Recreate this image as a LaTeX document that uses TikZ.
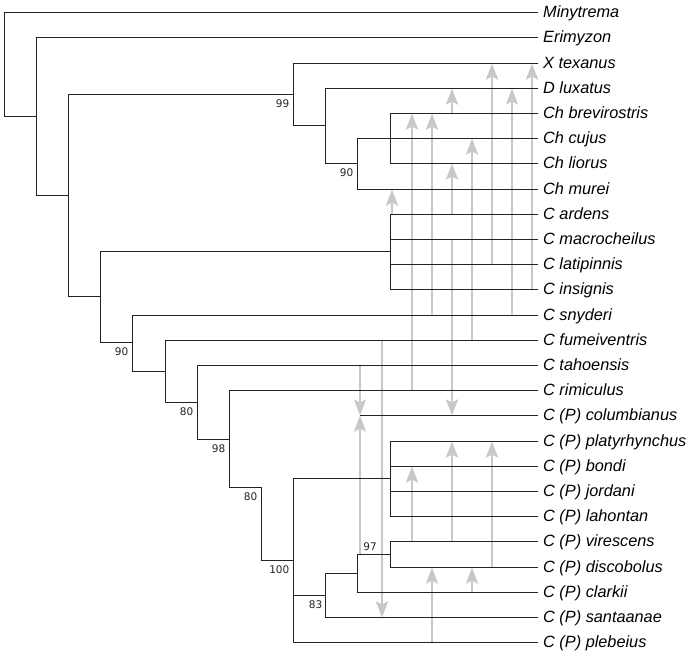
\documentclass[tikz,border=0pt]{standalone}
\usepackage{fontspec}
\setmainfont{Liberation Sans}
\newfontfamily\bsfont{DejaVu Sans}
\usetikzlibrary{
  arrows.meta,
  positioning
}
\definecolor{treeline}{RGB}{35,35,35}
\definecolor{hybgray}{RGB}{200,200,200}

\begin{document}
\begin{tikzpicture}[
      x=1pt, y=-1pt,
      tip/.style={anchor=west, inner xsep=5pt, inner ysep=0pt,
        text height=11.7pt, text depth=2.3pt,
        font=\fontsize{16.3}{18}\selectfont\itshape},
      branch/.style={draw=treeline, line width=1.7pt},
      hybrid/.style={draw=hybgray, line width=2.7pt,
        -{Stealth[length=16pt, width=12pt, inset=3pt]}},
      boot/.style={inner sep=0pt, text=treeline,
        font=\bsfont\fontsize{10.5}{12}\selectfont}
  ]
      \useasboundingbox (0,0) rectangle (693,655);

      % Terminais
      \foreach \nm/\txt [count=\i from 0] in {
          mint/Minytrema, erim/Erimyzon, xtex/X texanus, dlux/D luxatus,
          chbr/Ch brevirostris, chcu/Ch cujus, chli/Ch liorus, chmu/Ch murei,
          card/C ardens, cmac/C macrocheilus, clat/C latipinnis, cins/C insignis,
          csny/C snyderi, cfum/C fumeiventris, ctah/C tahoensis, crim/C rimiculus,
          pcol/C (P) columbianus, pply/C (P) platyrhynchus, pbon/C (P) bondi,
          pjor/C (P) jordani, plah/C (P) lahontan, pvir/C (P) virescens,
          pdis/C (P) discobolus, pcla/C (P) clarkii, psan/C (P) santaanae,
          pple/C (P) plebeius} {
          \node[tip] (\nm) at (538, {round(12.2+25.2*\i)+0.5}) {\txt};
      }

      % Nós internos
      \coordinate (root) at (4.5,64.5);
      \coordinate (nEri) at (36.5,116.5);
      \coordinate (nCat) at (68.5,195.5);
      \coordinate (n99) at (293.5,94.5);
      \coordinate (nDlu) at (325.5,125.5);
      \coordinate (n90a) at (357.5,163.5);
      \coordinate (nChas) at (390.5,138.5);
      \coordinate (nBig) at (100.5,296.5);
      \coordinate (nCsp) at (390.5,251.5);
      \coordinate (n90b) at (132.5,342.5);
      \coordinate (nFum) at (165.5,371.5);
      \coordinate (n80a) at (197.5,402.5);
      \coordinate (n98) at (229.5,439.5);
      \coordinate (n80b) at (261.5,487.5);
      \coordinate (n100) at (293.5,560.5);
      \coordinate (nPla) at (390.5,478.5);
      \coordinate (n83) at (325.5,595.5);
      \coordinate (nClk) at (357.5,573.5);
      \coordinate (n97) at (390.5,554.5);

      % Colunas das setas
      \foreach \k/\xx in {a/360, b/382, c/392, d/412, e/432,
          f/452, g/472, h/492, i/512, j/532} {
          \coordinate (col\k) at (\xx,0);
      }

      % Setas de hibridização
      \foreach \k/\s/\e in {a/ctah/pcol, a/n97/pcol, b/cfum/psan,
          c/card/chmu, d/crim/chbr, d/pvir/pbon, e/csny/chbr, e/pple/pdis,
          f/chbr/dlux, f/card/chli, f/cmac/pcol, f/pvir/pply,
          g/cfum/chcu, g/pcla/pdis, h/clat/xtex, h/pdis/pply,
          i/csny/dlux, j/cins/xtex} {
          \draw[hybrid] (col\k |- \s) -- (col\k |- \e);
      }

      % Ramos
      \foreach \p/\c in {root/mint.west, root/nEri,
          nEri/erim.west, nEri/nCat, nCat/n99, nCat/nBig,
          n99/xtex.west, n99/nDlu, nDlu/dlux.west, nDlu/n90a,
          n90a/nChas, n90a/chmu.west,
          nChas/chbr.west, nChas/chcu.west, nChas/chli.west,
          nBig/nCsp, nBig/n90b,
          nCsp/card.west, nCsp/cmac.west, nCsp/clat.west, nCsp/cins.west,
          n90b/csny.west, n90b/nFum, nFum/cfum.west, nFum/n80a,
          n80a/ctah.west, n80a/n98, n98/crim.west, n98/n80b,
          n80b/n100, n100/nPla, n100/n83, n100/pple.west,
          nPla/pply.west, nPla/pbon.west, nPla/pjor.west, nPla/plah.west,
          n83/nClk, n83/psan.west, nClk/n97, nClk/pcla.west,
          n97/pvir.west, n97/pdis.west} {
          \draw[branch] (\p) |- (\c);
      }
      \draw[branch] (cola |- pcol) -- (pcol.west);

      % Suporte
      \node[boot, below left=5pt and 4pt of n99] (b99) {99};
      \node[boot, below left=5pt and 4pt of n90a] (b90a) {90};
      \node[boot, below left=5pt and 4pt of n90b] (b90b) {90};
      \node[boot, below left=5pt and 4pt of n80a] (b80a) {80};
      \node[boot, below left=5pt and 4pt of n98] (b98) {98};
      \node[boot, below left=5pt and 4pt of n80b] (b80b) {80};
      \node[boot, below left=5pt and 4pt of n100] (b100) {100};
      \node[boot, below left=5pt and 3pt of n83] (b83) {83};
      \node[boot, above left=4pt and 13.5pt of n97] (b97) {97};

  \end{tikzpicture}
\end{document}
